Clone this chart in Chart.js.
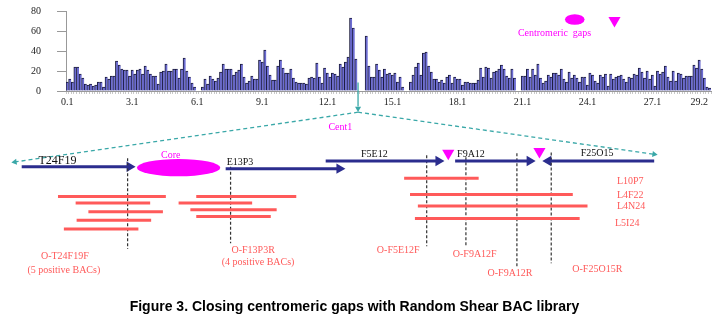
<!DOCTYPE html>
<html>
<head>
<meta charset="utf-8">
<script src="https://cdn.jsdelivr.net/npm/chart.js@4.4.1/dist/chart.umd.min.js"></script>
<style>
  html, body { margin: 0; padding: 0; background: #fff; }
  #wrap { position: relative; width: 721px; height: 322px; overflow: hidden; }
  #barBox { position: absolute; left: 0; top: -11px; width: 721px; height: 124px; }
  #diagBox { position: absolute; left: 0; top: 0; width: 721px; height: 322px; pointer-events: none; }
  #caption { position: absolute; left: -6px; top: 298px; width: 721px; text-align: center;
             font: bold 14px "Liberation Sans", Arial, sans-serif; color: #000; }
</style>
</head>
<body>
<div id="wrap">
  <div id="barBox"><canvas id="bars"></canvas></div>
  <div id="diagBox"><canvas id="diagram"></canvas></div>
  <div id="caption">Figure 3. Closing centromeric gaps with Random Shear BAC library</div>
</div>
<script>
// BAC end counts per bin along the chromosome (null = gap)
const coverage = [
  9,12,9,24,24,17,13,7,6,7,5,6,9,9,4,14,12,15,15,30,26,22,21,21,15,21,17,21,22,17,25,21,17,15,15,7,19,20,27,20,
  20,22,22,13,22,33,20,14,8,4,
  null,null,
  4,12,7,15,12,10,13,19,27,22,22,22,16,19,21,27,14,8,10,15,12,12,31,29,41,25,16,11,11,25,
  31,23,18,18,22,13,9,8,8,8,7,13,14,13,28,14,8,23,18,14,18,17,15,27,24,29,34,73,63,32,
  null,null,null,
  55,25,14,14,27,21,14,22,17,18,16,18,9,14,4,
  null,null,
  9,16,24,28,16,38,39,25,19,12,12,9,11,8,14,16,8,14,12,12,6,9,9,8,8,8,11,23,14,24,23,13,19,
  20,22,26,22,15,13,22,13,
  null,null,
  15,15,22,14,22,16,27,13,8,10,16,14,18,18,16,22,12,9,19,13,16,13,9,14,14,6,18,16,10,8,16,14,
  17,5,17,12,14,15,16,12,9,14,13,17,16,23,19,13,20,12,16,5,20,17,19,25,14,10,20,10,18,17,13,15,15,15,26,23,31,22,13,4,3
];
const tickLabels = ['0.1','3.1','6.1','9.1','12.1','15.1','18.1','21.1','24.1','27.1','29.2'];
const tickBins = [0,25,50,75,100,125,150,175,200,225,243];

// schematic of the centromere region (diagram units)
const contigNames = ['T24F19','E13P3','F5E12','F9A12','F25O15'];
const contigFrom  = [15, 223, 325, 457, 660];
const contigTo    = [131, 345, 446, 539, 546];
const contigRow   = [167, 169, 161, 161, 161];

const bacFrom = [52, 70, 83, 71, 58,  193, 175, 187, 193,  405, 411, 419, 416];
const bacTo   = [162,146,159,147,134, 295, 250, 275, 269,  481, 577, 592, 584];
const bacRow  = [198,205,214,223,232, 198, 205, 212, 219,  179, 196, 208, 221];
const bacNames = ['L10P7','L4F22','L4N24','L5I24'];

const primerNames = ['O-T24F19F','O-F13P3R','O-F5E12F','O-F9A12F','O-F9A12R','O-F25O15R'];
const primerPos   = [123, 228, 428, 468, 520, 555];
const primerTop   = [158, 167, 155, 157, 153, 152];
const primerBottom= [253, 247, 250, 250, 273, 268];

const gapPos = [450, 543];

document.addEventListener('DOMContentLoaded', function() {
  const serif = 'Liberation Serif';

  new Chart(document.getElementById('bars'), {
    type: 'bar',
    data: {
      labels: coverage.map((v, i) => i),
      datasets: [{
        data: coverage,
        backgroundColor: '#6d6dd2',
        borderColor: '#1b1b3c',
        borderWidth: { top: 1, left: 1, right: 0, bottom: 0 },
        borderSkipped: false,
        barPercentage: 1,
        categoryPercentage: 1
      }]
    },
    options: {
      responsive: true,
      maintainAspectRatio: false,
      animation: false,
      layout: { padding: { left: 15, right: 10, top: 4, bottom: 2 } },
      plugins: { legend: { display: false }, tooltip: { enabled: false } },
      scales: {
        x: {
          ticks: {
            autoSkip: false, maxRotation: 0, minRotation: 0, padding: 2, color: '#222',
            font: { family: serif, size: 10 },
            callback: (v, i) => { const k = tickBins.indexOf(i); return k < 0 ? '' : tickLabels[k]; }
          },
          grid: { drawOnChartArea: false, tickLength: 3, color: '#c8c8c8' },
          border: { color: '#999' }
        },
        y: {
          min: 0, max: 80,
          ticks: { stepSize: 20, padding: 16, color: '#222', font: { family: serif, size: 10 } },
          grid: { drawOnChartArea: false, tickLength: 9, color: '#999' },
          border: { color: '#999' }
        }
      }
    }
  });

  // ---- diagram ----
  const NAVY = '#2b2d8e', RED = '#ff5a5a', MAG = '#ff00ff', TEAL = '#3aa8a8';
  const sets = [];
  const line = (x1, y1, x2, y2, color, width, dash) => sets.push({
    data: [{ x: x1, y: y1 }, { x: x2, y: y2 }], showLine: true, borderColor: color,
    borderWidth: width, borderDash: dash || [], pointRadius: 0, clip: false
  });
  const heads = [];
  const head = (x, y, rot, r, color) => heads.push({ x, y, rot, r, color });

  // contig arrows
  contigNames.forEach((n, i) => {
    const dir = contigTo[i] > contigFrom[i] ? 1 : -1;
    const r = 6;
    line(contigFrom[i], contigRow[i], contigTo[i] - dir * r, contigRow[i], NAVY, 3);
    head(contigTo[i] - dir * r, contigRow[i], dir > 0 ? 90 : 270, r, NAVY);
  });
  // BAC clones
  bacFrom.forEach((f, i) => line(f, bacRow[i], bacTo[i], bacRow[i], RED, 3));
  // primer positions
  primerPos.forEach((p, i) => line(p, primerTop[i], p, primerBottom[i], '#333', 1.2, [3, 2]));
  // gaps
  gapPos.forEach((g, i) => head(g, i ? 151 : 153, 180, 7, MAG));
  head(619.5, 14, 180, 7, MAG);
  // centromere zoom lines
  line(358, 79, 358, 104, TEAL, 1.3);
  head(358, 106, 180, 3.5, TEAL);
  const ends = [[8, 162], [660, 154]];
  ends.forEach(e => {
    line(358, 110, e[0], e[1], TEAL, 1.3, [4, 3]);
    const rot = Math.atan2(e[0] - 358, -(e[1] - 110)) * 180 / Math.PI;
    head(e[0], e[1], rot, 3.5, TEAL);
  });
  sets.push({
    data: heads.map(h => ({ x: h.x, y: h.y })), showLine: false, clip: false,
    pointStyle: 'triangle', pointRotation: heads.map(h => h.rot), pointRadius: heads.map(h => h.r),
    pointBackgroundColor: heads.map(h => h.color), pointBorderColor: heads.map(h => h.color), pointBorderWidth: 0
  });

  const ellipses = [
    { x: 175, y: 168, rx: 42.5, ry: 9, color: MAG },
    { x: 579, y: 13, rx: 10, ry: 5.5, color: MAG }
  ];
  const texts = [
    { t: 'Centromeric  gaps', x: 521, y: 28, c: MAG, s: 10, a: 'left' },
    { t: 'Cent1', x: 340, y: 126, c: MAG, s: 10, a: 'center' },
    { t: 'Core', x: 167, y: 155, c: MAG, s: 10, a: 'center' },
    { t: 'T24F19', x: 32, y: 161, c: '#111', s: 12, a: 'left' },
    { t: 'E13P3', x: 224, y: 162, c: '#111', s: 10, a: 'left' },
    { t: 'F5E12', x: 361, y: 154, c: '#111', s: 10, a: 'left' },
    { t: 'F9A12', x: 459, y: 154, c: '#111', s: 10, a: 'left' },
    { t: 'F25O15', x: 585, y: 153, c: '#111', s: 10, a: 'left' },
    { t: bacNames[0], x: 622, y: 182, c: RED, s: 10, a: 'left' },
    { t: bacNames[1], x: 622, y: 197, c: RED, s: 10, a: 'left' },
    { t: bacNames[2], x: 622, y: 208, c: RED, s: 10, a: 'left' },
    { t: bacNames[3], x: 620, y: 226, c: RED, s: 10, a: 'left' },
    { t: primerNames[0], x: 59, y: 261, c: RED, s: 10, a: 'center' },
    { t: '(5 positive BACs)', x: 58, y: 275, c: RED, s: 10, a: 'center' },
    { t: primerNames[1], x: 251, y: 254, c: RED, s: 10, a: 'center' },
    { t: '(4 positive BACs)', x: 256, y: 267, c: RED, s: 10, a: 'center' },
    { t: primerNames[2], x: 399, y: 254, c: RED, s: 10, a: 'center' },
    { t: primerNames[3], x: 477, y: 259, c: RED, s: 10, a: 'center' },
    { t: primerNames[4], x: 513, y: 279, c: RED, s: 10, a: 'center' },
    { t: primerNames[5], x: 602, y: 274, c: RED, s: 10, a: 'center' }
  ];

  const decor = {
    id: 'decor',
    beforeDatasetsDraw(chart) {
      const { ctx, scales: { x, y } } = chart;
      ellipses.forEach(e => {
        const cx = x.getPixelForValue(e.x), cy = y.getPixelForValue(e.y);
        const rx = x.getPixelForValue(e.x + e.rx) - cx, ry = y.getPixelForValue(e.y + e.ry) - cy;
        ctx.save();
        ctx.fillStyle = e.color;
        ctx.beginPath();
        ctx.ellipse(cx, cy, Math.abs(rx), Math.abs(ry), 0, 0, Math.PI * 2);
        ctx.fill();
        ctx.restore();
      });
    },
    afterDatasetsDraw(chart) {
      const { ctx, scales: { x, y } } = chart;
      ctx.save();
      ctx.textBaseline = 'middle';
      texts.forEach(t => {
        ctx.font = t.s + 'px "' + serif + '"';
        ctx.fillStyle = t.c;
        ctx.textAlign = t.a;
        ctx.fillText(t.t, x.getPixelForValue(t.x), y.getPixelForValue(t.y));
      });
      ctx.restore();
    }
  };

  new Chart(document.getElementById('diagram'), {
    type: 'scatter',
    data: { datasets: sets },
    options: {
      responsive: true,
      maintainAspectRatio: false,
      animation: false,
      layout: { padding: 0 },
      plugins: { legend: { display: false }, tooltip: { enabled: false } },
      scales: {
        x: { type: 'linear', min: 0, max: 721, display: false },
        y: { type: 'linear', min: 0, max: 322, reverse: true, display: false }
      }
    },
    plugins: [decor]
  });
});
</script>
</body>
</html>
